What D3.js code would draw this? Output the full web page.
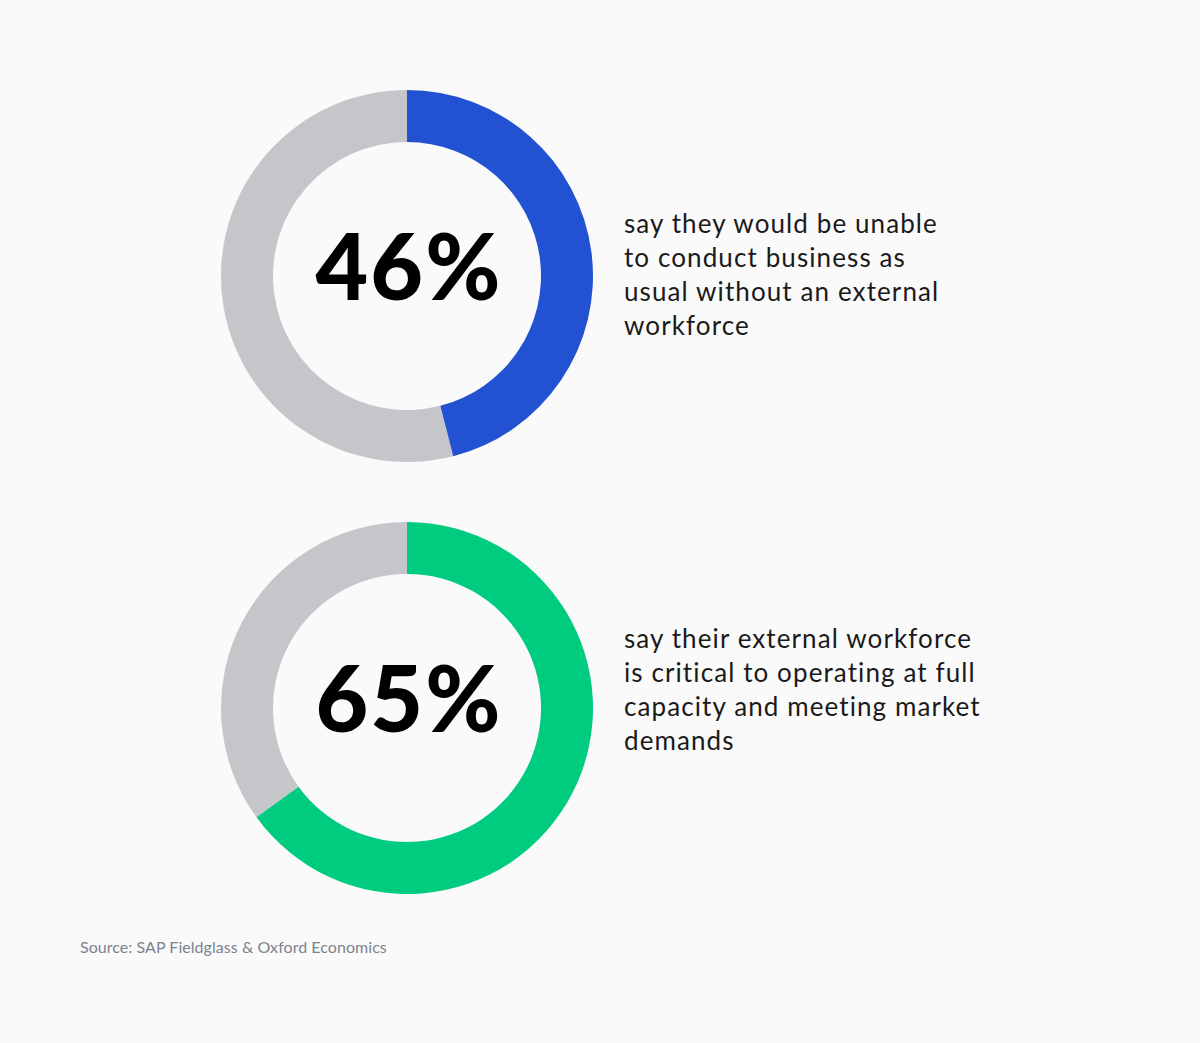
<!DOCTYPE html>
<html><head><meta charset="utf-8">
<script src="https://cdn.jsdelivr.net/npm/d3@7"></script>
<style>
html,body{margin:0;padding:0;background:#fafafa;}
svg{display:block;}
</style></head>
<body>
<script>
const percents = [46, 65];
const labels = ["46%", "65%"];
const colors = ["#2251d1", "#00cc80"];
const descriptions = [
  ["say they would be unable", "to conduct business as", "usual without an external", "workforce"],
  ["say their external workforce", "is critical to operating at full", "capacity and meeting market", "demands"]
];
const source = "Source: SAP Fieldglass & Oxford Economics";

const W = 1200, H = 1043;
const svg = d3.select("body").append("svg").attr("width", W).attr("height", H);
svg.append("rect").attr("width", W).attr("height", H).attr("fill", "#fafafa");

const centers = [276, 708];
const textTop = [233, 648];
const cx = 407, outerR = 186, innerR = 134;
const angle = d3.scaleLinear().domain([0, 100]).range([0, 2 * Math.PI]);
const arc = d3.arc().innerRadius(innerR).outerRadius(outerR);

percents.forEach((p, i) => {
  const g = svg.append("g").attr("transform", `translate(${cx},${centers[i]})`);
  g.append("path").attr("d", arc({startAngle: angle(p), endAngle: angle(100)})).attr("fill", "#c5c6ca");
  g.append("path").attr("d", arc({startAngle: angle(0), endAngle: angle(p)})).attr("fill", colors[i]);
  g.append("text").text(labels[i])
    .attr("x", 2).attr("y", 24)
    .attr("text-anchor", "middle")
    .attr("font-family", "Lato, sans-serif").attr("font-weight", 900)
    .attr("font-size", 91).attr("letter-spacing", 2).attr("fill", "#000");
  const t = svg.append("text")
    .attr("font-family", "Lato, sans-serif").attr("font-size", 26)
    .attr("fill", "#1a1a1a").attr("letter-spacing", 1.1);
  descriptions[i].forEach((line, j) => {
    t.append("tspan").attr("x", 624).attr("y", textTop[i] + j * 34).text(line);
  });
});

svg.append("text").text(source)
  .attr("x", 80).attr("y", 953)
  .attr("font-family", "Lato, sans-serif").attr("font-size", 16)
  .attr("letter-spacing", 0.05)
  .attr("fill", "#7d8290");
</script>
</body></html>
